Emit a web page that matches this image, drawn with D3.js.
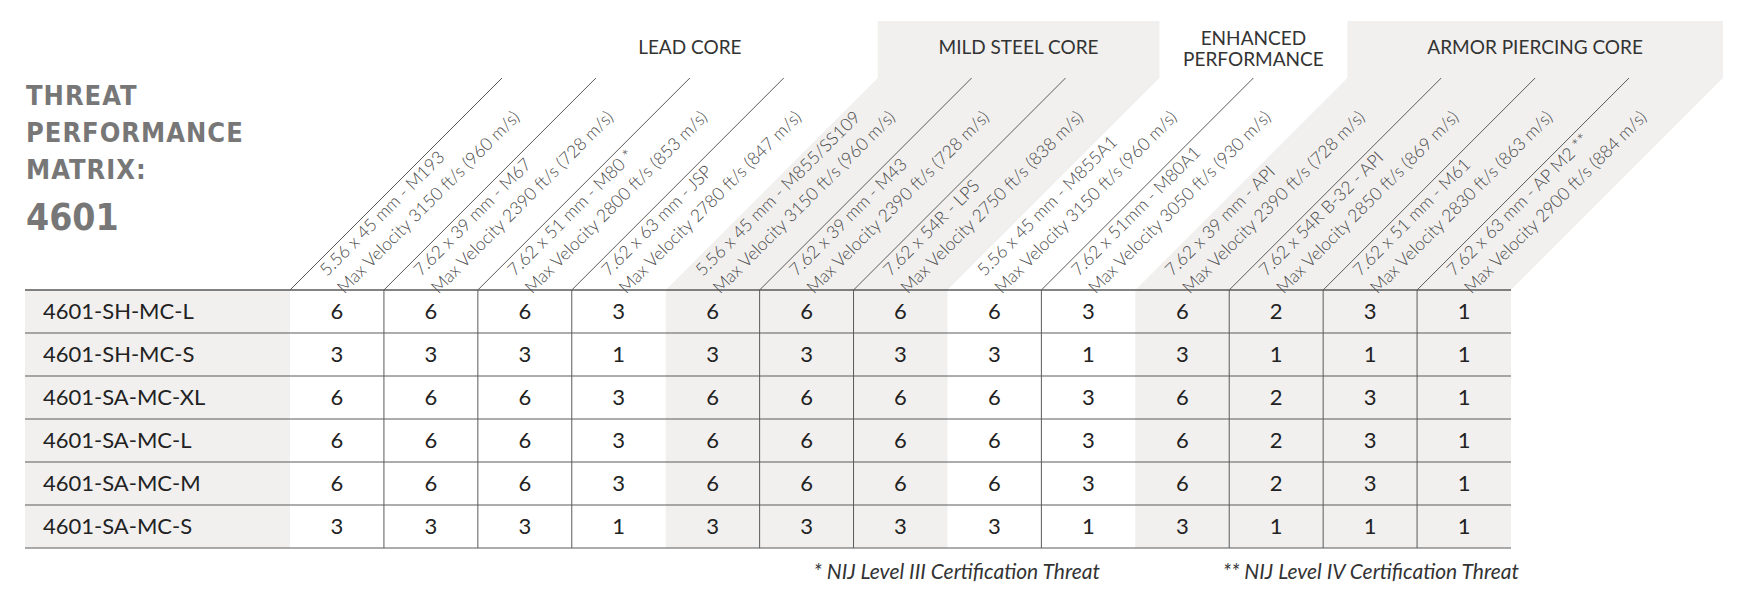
<!DOCTYPE html>
<html><head><meta charset="utf-8">
<script src="https://cdn.jsdelivr.net/npm/d3@7"></script>
<style>body{margin:0;background:#fff}</style></head>
<body><svg id="c" width="1752" height="612"></svg>
<script>
const rows = ["4601-SH-MC-L","4601-SH-MC-S","4601-SA-MC-XL","4601-SA-MC-L","4601-SA-MC-M","4601-SA-MC-S"];
const threats = [
 ["5.56 x 45 mm - M193","Max Velocity 3150 ft/s (960 m/s)"],
 ["7.62 x 39 mm - M67","Max Velocity 2390 ft/s (728 m/s)"],
 ["7.62 x 51 mm - M80 *","Max Velocity 2800 ft/s (853 m/s)"],
 ["7.62 x 63 mm - JSP","Max Velocity 2780 ft/s (847 m/s)"],
 ["5.56 x 45 mm - M855/SS109","Max Velocity 3150 ft/s (960 m/s)"],
 ["7.62 x 39 mm - M43","Max Velocity 2390 ft/s (728 m/s)"],
 ["7.62 x 54R - LPS","Max Velocity 2750 ft/s (838 m/s)"],
 ["5.56 x 45 mm - M855A1","Max Velocity 3150 ft/s (960 m/s)"],
 ["7.62 x 51mm - M80A1","Max Velocity 3050 ft/s (930 m/s)"],
 ["7.62 x 39 mm - API","Max Velocity 2390 ft/s (728 m/s)"],
 ["7.62 x 54R B-32 - API","Max Velocity 2850 ft/s (869 m/s)"],
 ["7.62 x 51 mm - M61","Max Velocity 2830 ft/s (863 m/s)"],
 ["7.62 x 63 mm - AP M2 **","Max Velocity 2900 ft/s (884 m/s)"]
];
const groups = [
 {name:["LEAD CORE"], start:0, end:4, shaded:false},
 {name:["MILD STEEL CORE"], start:4, end:7, shaded:true},
 {name:["ENHANCED","PERFORMANCE"], start:7, end:9, shaded:false},
 {name:["ARMOR PIERCING CORE"], start:9, end:13, shaded:true}
];
const values = [
 [6,6,6,3,6,6,6,6,3,6,2,3,1],
 [3,3,3,1,3,3,3,3,1,3,1,1,1],
 [6,6,6,3,6,6,6,6,3,6,2,3,1],
 [6,6,6,3,6,6,6,6,3,6,2,3,1],
 [6,6,6,3,6,6,6,6,3,6,2,3,1],
 [3,3,3,1,3,3,3,3,1,3,1,1,1]
];
const titleLines = ["THREAT","PERFORMANCE","MATRIX:"];
const model = "4601";
const footnotes = ["* NIJ Level III Certification Threat","** NIJ Level IV Certification Threat"];

const svg = d3.select("#c");
const gray = "#f1f0ef", lineC = "#5a5a5a";
const tableL = 25, colL = 290, colR = 1511, topY = 290, rowH = 43, H = 212, boxTop = 21;
const x = d3.scaleLinear().domain([0, threats.length]).range([colL, colR]);
const y = d3.scaleBand().domain(rows).range([topY, topY + rows.length*rowH]);
const bottomY = topY + rows.length*rowH;
const shadedCol = i => groups.some(g => g.shaded && i >= g.start && i < g.end);
const hf = "Lato, 'Open Sans', sans-serif";

svg.append("rect").attr("x",tableL).attr("y",topY).attr("width",colL-tableL).attr("height",bottomY-topY).attr("fill",gray);
groups.filter(g=>g.shaded).forEach(g=>{
  svg.append("rect").attr("x",x(g.start)).attr("y",topY).attr("width",x(g.end)-x(g.start)).attr("height",bottomY-topY).attr("fill",gray);
  svg.append("path").attr("fill",gray).attr("d",
   `M${x(g.start)},${topY} L${x(g.start)+H},${topY-H} L${x(g.start)+H},${boxTop} L${x(g.end)+H},${boxTop} L${x(g.end)+H},${topY-H} L${x(g.end)},${topY} Z`);
});
const lineB = d3.range(0, threats.length+1).filter(b => {
  if (b === 0) return true;
  if (b === threats.length) return false;
  return shadedCol(b-1) === shadedCol(b);
});
lineB.forEach(b=>{
  svg.append("line").attr("x1",x(b)).attr("y1",topY).attr("x2",x(b)+H).attr("y2",topY-H).attr("stroke",lineC).attr("stroke-width",1);
  if (b>0) svg.append("line").attr("x1",x(b)).attr("y1",topY).attr("x2",x(b)).attr("y2",bottomY).attr("stroke",lineC).attr("stroke-width",1);
});
d3.range(rows.length+1).forEach(r=>{
  const yy = topY + r*rowH;
  svg.append("line").attr("x1",tableL).attr("x2",colR).attr("y1",yy).attr("y2",yy).attr("stroke",lineC).attr("stroke-width", r===0?1.5:1);
});
threats.forEach((t,i)=>{
  const g = svg.append("g").attr("transform",`translate(${x(i)+37},${topY-13}) rotate(-45)`);
  t.forEach((line,k)=>g.append("text").attr("x",0).attr("y",k*24.7)
    .attr("font-family",hf).attr("font-weight",300).attr("font-size",17.5).attr("fill","#4a4a4a").text(line));
});
groups.forEach(g=>{
  const cx = (x(g.start)+x(g.end))/2 + H;
  const t = svg.append("text").attr("text-anchor","middle").attr("font-family",hf).attr("font-size",19).attr("fill","#333");
  if (g.name.length===1) t.append("tspan").attr("x",cx).attr("y",54).text(g.name[0]);
  else g.name.forEach((n,k)=>t.append("tspan").attr("x",cx).attr("y",45+k*21).text(n));
});
const tf = "'Liberation Sans Narrow','DejaVu Sans Condensed',sans-serif";
titleLines.forEach((l,k)=>svg.append("text").attr("x",26).attr("y",105+k*37).attr("font-family",tf).attr("font-weight",700).attr("font-size",27).attr("fill","#777").attr("letter-spacing",1).text(l));
svg.append("text").attr("x",26).attr("y",230).attr("font-family",tf).attr("font-weight",700).attr("font-size",37).attr("fill","#777").text(model);
rows.forEach((r,ri)=>{
  const cy = y(r)+rowH/2;
  svg.append("text").attr("x",43).attr("y",cy).attr("dy","0.36em").attr("font-family",hf).attr("font-size",22).attr("fill","#222").text(r);
  values[ri].forEach((v,ci)=>svg.append("text").attr("x",(x(ci)+x(ci+1))/2).attr("y",cy).attr("dy","0.36em").attr("text-anchor","middle").attr("font-family",hf).attr("font-size",22).attr("fill","#222").text(v));
});
svg.append("text").attr("x",1100).attr("y",579).attr("text-anchor","end").attr("font-family",hf).attr("font-style","italic").attr("font-size",21).attr("fill","#333").text(footnotes[0]);
svg.append("text").attr("x",colR+8).attr("y",579).attr("text-anchor","end").attr("font-family",hf).attr("font-style","italic").attr("font-size",21).attr("fill","#333").text(footnotes[1]);
</script></body></html>
